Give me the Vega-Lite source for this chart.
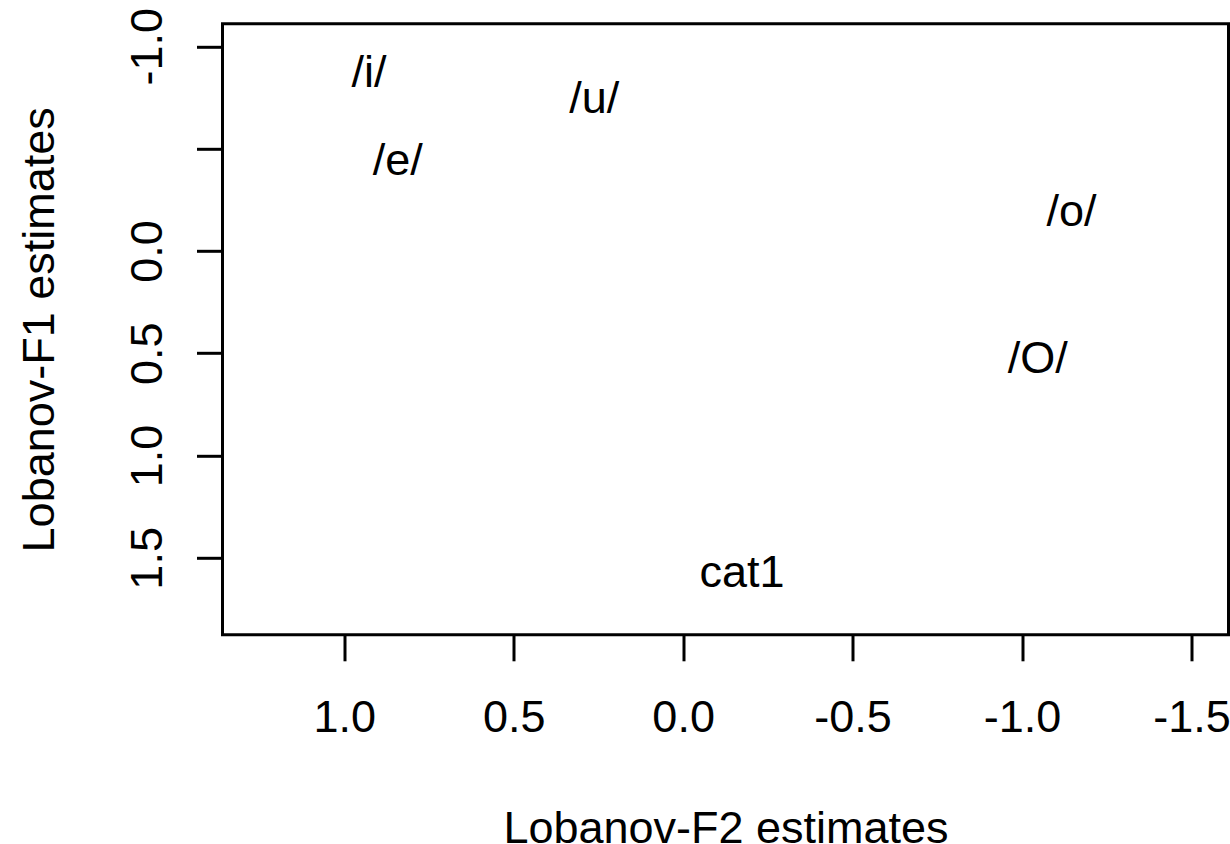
{
  "$schema": "https://vega.github.io/schema/vega-lite/v6.json",
  "width": 1006,
  "height": 611,
  "autosize": {"type": "none"},
  "padding": {"left": 222.5, "top": 23.8, "right": 1.5, "bottom": 209.2},
  "background": "white",
  "config": {
    "view": {"stroke": "black", "strokeWidth": 3},
    "axis": {
      "grid": false,
      "domain": false,
      "ticks": true,
      "tickSize": 26,
      "tickWidth": 3,
      "tickColor": "black",
      "labelFont": "Liberation Sans",
      "labelFontSize": 45,
      "labelColor": "black",
      "labelFlush": false,
      "labelOverlap": false,
      "titleFont": "Liberation Sans",
      "titleFontSize": 45,
      "titleFontWeight": "normal",
      "titleColor": "black"
    }
  },
  "data": {
    "values": [
      {"label": "/i/", "f2": 0.927, "f1": -0.869},
      {"label": "/u/", "f2": 0.262, "f1": -0.744},
      {"label": "/e/", "f2": 0.842, "f1": -0.441},
      {"label": "/o/", "f2": -1.146, "f1": -0.192},
      {"label": "/O/", "f2": -1.046, "f1": 0.527},
      {"label": "cat1", "f2": -0.174, "f1": 1.576}
    ]
  },
  "mark": {
    "type": "text",
    "font": "Liberation Sans",
    "fontSize": 45,
    "color": "black",
    "align": "center",
    "baseline": "middle"
  },
  "encoding": {
    "x": {
      "field": "f2",
      "type": "quantitative",
      "scale": {"domain": [-1.609, 1.359], "reverse": true, "nice": false, "zero": false},
      "axis": {
        "title": "Lobanov-F2 estimates",
        "values": [1, 0.5, 0, -0.5, -1, -1.5],
        "labelExpr": "replace(format(datum.value, '.1f'), '\u2212', '-')",
        "labelBaseline": "alphabetic",
        "labelPadding": 70.5,
        "titleBaseline": "alphabetic",
        "titleY": 207.5
      }
    },
    "y": {
      "field": "f1",
      "type": "quantitative",
      "scale": {"domain": [-1.11, 1.876], "reverse": true, "nice": false, "zero": false},
      "axis": {
        "title": "Lobanov-F1 estimates",
        "values": [-1, -0.5, 0, 0.5, 1, 1.5],
        "labelExpr": "datum.value == -0.5 ? '' : replace(format(datum.value, '.1f'), '\u2212', '-')",
        "labelAngle": -90,
        "labelAlign": "center",
        "labelBaseline": "alphabetic",
        "labelPadding": 35.5,
        "titleAngle": -90,
        "titleBaseline": "alphabetic",
        "titleX": -169.5
      }
    },
    "text": {"field": "label"}
  }
}
